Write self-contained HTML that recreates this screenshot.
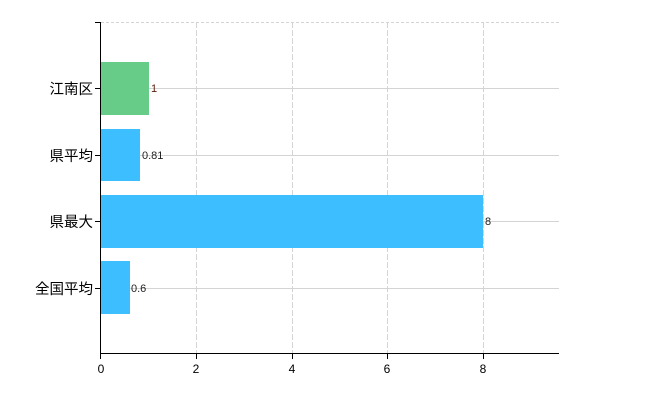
<!DOCTYPE html>
<html><head><meta charset="utf-8"><style>body{margin:0;background:#fff}</style></head><body>
<svg width="650" height="400" xmlns="http://www.w3.org/2000/svg" font-family="'Liberation Sans','Noto Sans CJK JP',sans-serif">
<g stroke="#d4d4d4" stroke-width="1">
<line x1="101" y1="22.5" x2="559" y2="22.5" stroke-dasharray="3,2"/>
<line x1="101" y1="88.5" x2="559" y2="88.5"/>
<line x1="101" y1="155.5" x2="559" y2="155.5"/>
<line x1="101" y1="221.5" x2="559" y2="221.5"/>
<line x1="101" y1="288.5" x2="559" y2="288.5"/>
<line x1="196.5" y1="22" x2="196.5" y2="353" stroke-dasharray="6,2"/>
<line x1="292.5" y1="22" x2="292.5" y2="353" stroke-dasharray="6,2"/>
<line x1="387.5" y1="22" x2="387.5" y2="353" stroke-dasharray="6,2"/>
<line x1="483.5" y1="22" x2="483.5" y2="353" stroke-dasharray="6,2"/>
</g>
<rect x="101" y="62" width="48" height="53" fill="#66cc88"/>
<rect x="101" y="129" width="39" height="52" fill="#3dbfff"/>
<rect x="101" y="195" width="382" height="53" fill="#3dbfff"/>
<rect x="101" y="261" width="29" height="53" fill="#3dbfff"/>
<g font-size="11" fill="#222">
<text x="151" y="92" fill="#5a1a0a">1</text>
<text x="142" y="159">0.81</text>
<text x="485" y="225">8</text>
<text x="131" y="292">0.6</text>
</g>
<g stroke="#000" stroke-width="1">
<line x1="100.5" y1="22" x2="100.5" y2="354"/>
<line x1="100" y1="353.5" x2="559" y2="353.5"/>
<line x1="95" y1="22.5" x2="101" y2="22.5"/>
<line x1="95" y1="88.5" x2="101" y2="88.5"/>
<line x1="95" y1="155.5" x2="101" y2="155.5"/>
<line x1="95" y1="221.5" x2="101" y2="221.5"/>
<line x1="95" y1="288.5" x2="101" y2="288.5"/>
<line x1="100.5" y1="353" x2="100.5" y2="359"/>
<line x1="196.5" y1="353" x2="196.5" y2="359"/>
<line x1="292.5" y1="353" x2="292.5" y2="359"/>
<line x1="387.5" y1="353" x2="387.5" y2="359"/>
<line x1="483.5" y1="353" x2="483.5" y2="359"/>
</g>
<g font-size="14.5" fill="#000" text-anchor="end">
<text x="93" y="94">江南区</text>
<text x="93" y="161">県平均</text>
<text x="93" y="227">県最大</text>
<text x="93" y="294">全国平均</text>
</g>
<g font-size="12" fill="#000" text-anchor="middle">
<text x="101" y="373">0</text>
<text x="196" y="373">2</text>
<text x="292" y="373">4</text>
<text x="387" y="373">6</text>
<text x="483" y="373">8</text>
</g>
</svg>
</body></html>
